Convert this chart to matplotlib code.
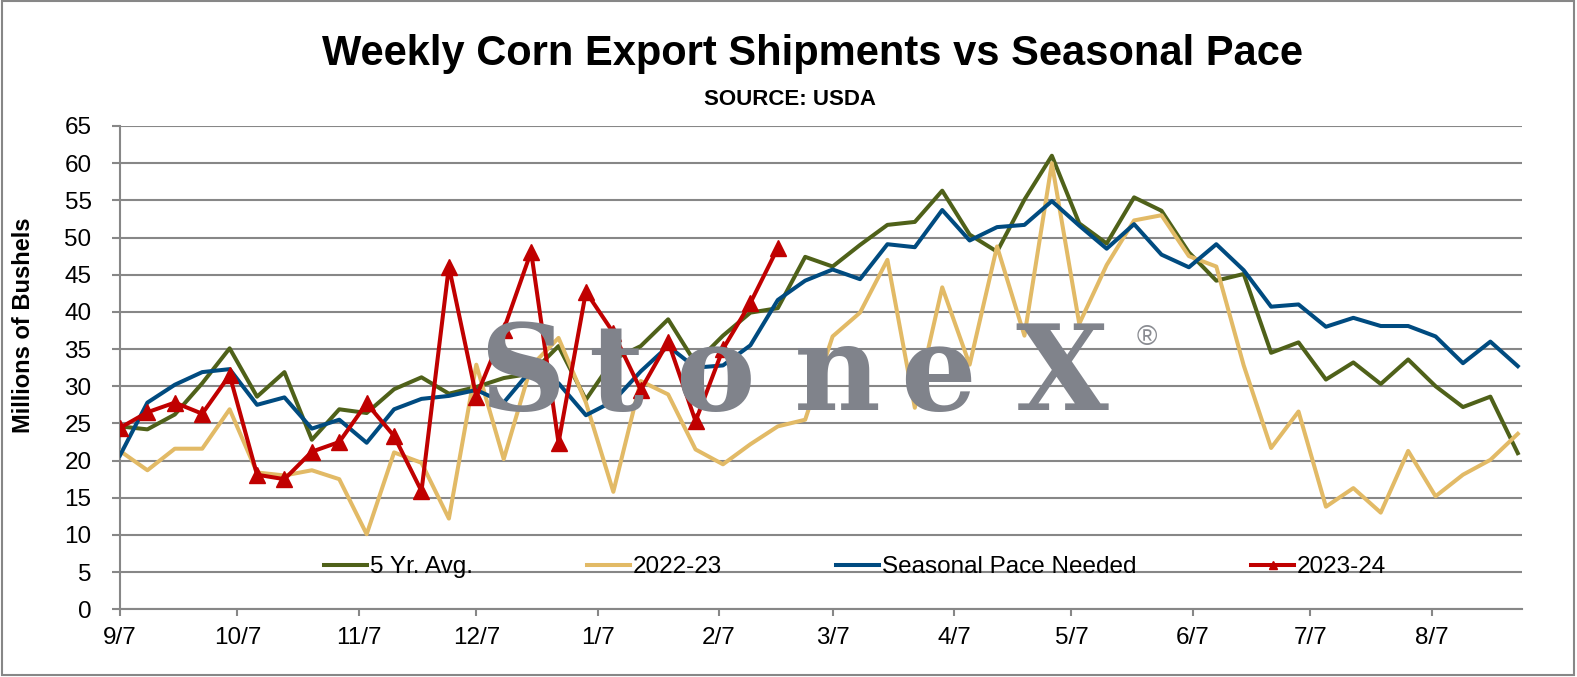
import matplotlib
matplotlib.use("Agg")
import matplotlib.pyplot as plt
import matplotlib.dates as mdates
from matplotlib.ticker import FuncFormatter
from matplotlib.patches import Rectangle
import pandas as pd

plt.rcParams['font.family'] = ['Liberation Sans', 'DejaVu Sans']

# ---------------- data ----------------
start_date = "2023-09-07"
n_weeks = 52
week_dates = pd.date_range(start_date, periods=n_weeks, freq="7D")

five_yr_avg = [24.6, 24.2, 26.2, 30.4, 35.1, 28.6, 31.9, 22.8, 26.9, 26.4,
               29.6, 31.2, 29.0, 29.9, 31.1, 31.7, 35.4, 28.2, 33.6, 35.4,
               39.0, 33.1, 36.8, 39.9, 40.5, 47.4, 46.1, 49.0, 51.7, 52.1,
               56.3, 50.4, 48.1, 55.1, 61.0, 51.9, 49.2, 55.4, 53.6, 48.0,
               44.2, 45.1, 34.5, 35.9, 30.9, 33.2, 30.3, 33.6, 30.0, 27.2,
               28.6, 21.0]

y2022_23 = [21.3, 18.7, 21.6, 21.6, 26.9, 18.4, 18.0, 18.7, 17.5, 10.1,
            21.1, 19.7, 12.2, 32.9, 20.2, 32.7, 36.5, 27.8, 15.8, 30.7,
            28.9, 21.5, 19.5, 22.2, 24.6, 25.5, 36.7, 39.9, 47.0, 27.1,
            43.3, 32.9, 48.8, 36.8, 60.0, 38.4, 46.3, 52.3, 53.0, 47.5,
            46.1, 32.8, 21.7, 26.6, 13.8, 16.3, 13.0, 21.3, 15.2, 18.1,
            20.1, 23.6]

seasonal_pace = [20.7, 27.8, 30.2, 31.9, 32.3, 27.5, 28.5, 24.3, 25.5, 22.4,
                 26.9, 28.3, 28.7, 29.5, 27.8, 32.2, 30.4, 26.1, 28.0, 32.0,
                 35.4, 32.5, 32.8, 35.5, 41.6, 44.2, 45.7, 44.4, 49.1, 48.7,
                 53.7, 49.6, 51.4, 51.7, 54.9, 51.6, 48.5, 51.8, 47.7, 46.0,
                 49.1, 45.6, 40.7, 41.0, 38.0, 39.2, 38.1, 38.1, 36.7, 33.1,
                 36.0, 32.7]

y2023_24 = [24.4, 26.5, 27.8, 26.3, 31.5, 18.1, 17.5, 21.2, 22.5, 27.7,
            23.3, 15.9, 46.1, 28.6, 37.6, 48.1, 22.4, 42.7, 37.2, 29.5,
            36.0, 25.3, 35.0, 41.2, 48.6]

series_labels = ["5 Yr. Avg.", "2022-23", "Seasonal Pace Needed", "2023-24"]
tick_dates = pd.date_range("2023-09-01", "2024-08-01", freq="MS") + pd.Timedelta(days=6)
y_ticks = list(range(0, 70, 5))

title = "Weekly Corn Export Shipments vs Seasonal Pace"
subtitle = "SOURCE: USDA"
ylabel = "Millions of Bushels"
watermark = "StoneX"

# ---------------- styling ----------------
W, H = 1577, 677
C_OLIVE = "#4F6119"
C_GOLD = "#E2BA66"
C_BLUE = "#004B80"
C_RED = "#C00000"
C_GRID = "#878787"
FS = 17.5

fig = plt.figure(figsize=(W / 100, H / 100), dpi=100)
fig.patch.set_facecolor("white")

left, right, top, bottom = 120, 1521.7, 126, 609.3
ax = fig.add_axes([left / W, 1 - bottom / H, (right - left) / W, (bottom - top) / H])

# watermark (behind grid)
wm_centers = [522, 616, 715, 837, 938, 1062]
for ch, cx in zip(watermark, wm_centers):
    fig.text(cx / W, 1 - 410 / H, ch, ha="center", va="baseline",
             fontsize=86, family="DejaVu Serif", fontweight="bold",
             color="#80838B", zorder=0.5)
fig.text(1147 / W, 1 - 338 / H, "\u00ae", ha="center", va="center",
         fontsize=20, color="#8A8C92", zorder=0.5)
ax.patch.set_alpha(0)

lw = 2.9
ax.plot(week_dates, five_yr_avg, color=C_OLIVE, lw=lw, label=series_labels[0], zorder=3)
ax.plot(week_dates, y2022_23, color=C_GOLD, lw=lw, label=series_labels[1], zorder=3)
ax.plot(week_dates, seasonal_pace, color=C_BLUE, lw=lw, label=series_labels[2], zorder=3)
ax.plot(week_dates[:len(y2023_24)], y2023_24, color=C_RED, lw=lw, marker="^",
        markersize=11, label=series_labels[3], zorder=4)

ax.set_ylim(0, 65)
ax.set_yticks(y_ticks)
ax.set_xlim(week_dates[0], week_dates[0] + pd.Timedelta(days=358))
ax.set_xticks(tick_dates)
ax.xaxis.set_major_formatter(FuncFormatter(
    lambda v, p: f"{mdates.num2date(v).month}/{mdates.num2date(v).day}"))

ax.yaxis.grid(True, color=C_GRID, lw=1.5, zorder=1)
ax.set_axisbelow(True)
for s in ["top", "right"]:
    ax.spines[s].set_visible(False)
for s in ["left", "bottom"]:
    ax.spines[s].set_color(C_GRID)
    ax.spines[s].set_linewidth(1.5)

ax.tick_params(axis="y", length=5.5, width=1.5, color=C_GRID, pad=15,
               labelsize=FS, labelcolor="black")
ax.tick_params(axis="x", length=5, width=1.5, color=C_GRID, pad=8,
               labelsize=FS, labelcolor="black")

ax.set_ylabel(ylabel, fontsize=17, fontweight="bold")
ax.yaxis.set_label_coords(35 / W, 1 - 325 / H, transform=fig.transFigure)

fig.text(812 / W, 1 - 65 / H, title, ha="center", va="baseline",
         fontsize=30, fontweight="bold")
fig.text(789.5 / W, 1 - 105 / H, subtitle, ha="center", va="baseline",
         fontsize=16, fontweight="bold")

leg = ax.legend(ncol=4, loc="center", bbox_to_anchor=(855 / W, 1 - 567 / H),
                bbox_transform=fig.transFigure, frameon=False, fontsize=FS,
                handlelength=1.77, handletextpad=0.12, columnspacing=4.7,
                markerscale=0.55)

fig.patches.append(Rectangle((1.5 / W, 1 - 675 / H), 1572 / W, 674 / H,
                             transform=fig.transFigure, fill=False,
                             edgecolor=C_GRID, lw=1.5, zorder=10))

fig.savefig("out.png", dpi=100)
